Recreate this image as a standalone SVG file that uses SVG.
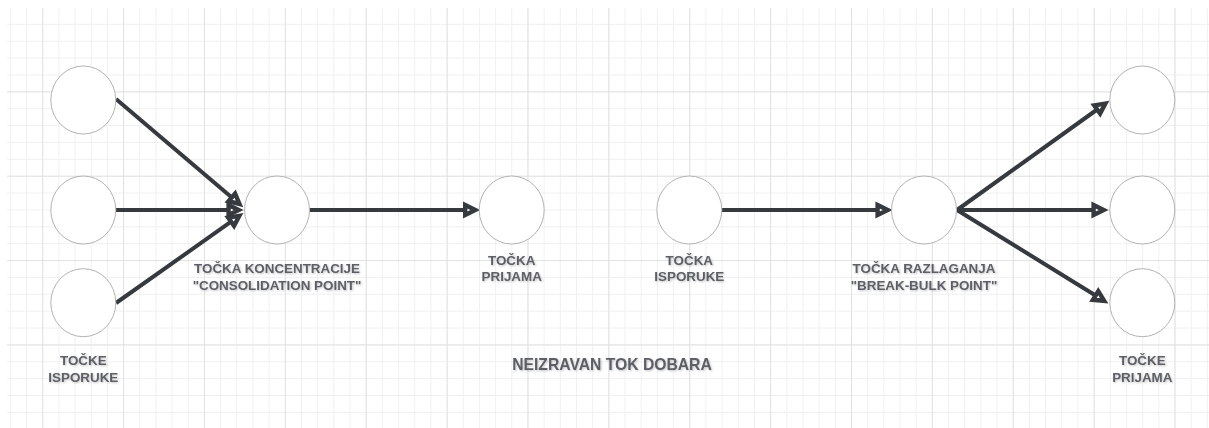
<svg xmlns="http://www.w3.org/2000/svg" width="1209" height="428" viewBox="0 0 1209 428">
  <style>
    .node { fill: #ffffff; stroke: #b3b3b3; stroke-width: 1; }
    .edge { fill: none; stroke: #36393d; stroke-width: 4; stroke-linecap: butt; marker-end: url(#arrow); }
    .lbl { font-family: "Liberation Sans", Arial, sans-serif; font-weight: bold; font-size: 13.4px; fill: #5c5f66; text-anchor: middle; filter: url(#tshadow); }
    .title { font-size: 15.7px; }
  </style>
  <defs>
    <pattern id="gmin" patternUnits="userSpaceOnUse" x="42.2" y="7" width="16.176" height="16.87">
      <path d="M0 0.5H16.176M0.5 0V16.87" stroke="#f0f0f0" stroke-width="1" fill="none"/>
    </pattern>
    <pattern id="gmaj" patternUnits="userSpaceOnUse" x="42.2" y="7" width="80.88" height="84.35">
      <path d="M0 0.5H80.88M0.5 0V84.35" stroke="#e2e2e2" stroke-width="1" fill="none"/>
    </pattern>
    <marker id="arrow" markerUnits="userSpaceOnUse" markerWidth="22" markerHeight="22" viewBox="-3 -9 20 18" refX="0" refY="0" orient="auto">
      <path d="M0,-4.6 L9.2,0 L0,4.6 Z" fill="#ffffff" stroke="#36393d" stroke-width="4" stroke-linejoin="miter"/>
    </marker>
    <filter id="tshadow" x="-10%" y="-30%" width="120%" height="160%">
      <feDropShadow dx="1" dy="1" stdDeviation="0.8" flood-color="#9a9a9a" flood-opacity="0.6"/>
    </filter>
  </defs>
  <rect x="0" y="0" width="1209" height="428" fill="#ffffff"/>
  <rect x="7" y="8" width="1202" height="420" fill="url(#gmin)"/>
  <rect x="7" y="8" width="1202" height="420" fill="url(#gmaj)"/>

  <g id="connectors">
    <path class="edge" d="M116,99 L231.8,197.4"/>
    <path class="edge" d="M116,210 L228.6,210"/>
    <path class="edge" d="M116,303 L231.1,221.7"/>
    <path class="edge" d="M309.5,210 L465.2,210"/>
    <path class="edge" d="M722,210 L877.6,210"/>
    <path class="edge" d="M957,210 L1097.15,109.5"/>
    <path class="edge" d="M957,210 L1093.6,210"/>
    <path class="edge" d="M957,210 L1095.6,295.5"/>
  </g>

  <g id="src1"><ellipse class="node" cx="83.3" cy="100" rx="32.5" ry="34"/></g>
  <g id="src2"><ellipse class="node" cx="83.3" cy="210" rx="32.5" ry="34"/></g>
  <g id="src3"><ellipse class="node" cx="83.3" cy="302.7" rx="32.5" ry="34"/></g>
  <g id="consolidation"><ellipse class="node" cx="277" cy="210" rx="32.5" ry="34"/></g>
  <g id="prijama"><ellipse class="node" cx="511.7" cy="210" rx="32.5" ry="34"/></g>
  <g id="isporuke"><ellipse class="node" cx="689.3" cy="210" rx="32.5" ry="34"/></g>
  <g id="breakbulk"><ellipse class="node" cx="924" cy="210" rx="32.5" ry="34"/></g>
  <g id="dst1"><ellipse class="node" cx="1142.3" cy="100" rx="32.5" ry="34"/></g>
  <g id="dst2"><ellipse class="node" cx="1142.3" cy="210" rx="32.5" ry="34"/></g>
  <g id="dst3"><ellipse class="node" cx="1142.3" cy="302.7" rx="32.5" ry="34"/></g>

  <g id="labels">
    <text class="lbl" x="83.3" y="365">TOČKE</text>
    <text class="lbl" x="83.3" y="382">ISPORUKE</text>
    <text class="lbl" x="277" y="272.5">TOČKA KONCENTRACIJE</text>
    <text class="lbl" x="277" y="289.5">"CONSOLIDATION POINT"</text>
    <text class="lbl" x="511.7" y="264.5">TOČKA</text>
    <text class="lbl" x="511.7" y="281">PRIJAMA</text>
    <text class="lbl" x="689.3" y="264.5">TOČKA</text>
    <text class="lbl" x="689.3" y="281">ISPORUKE</text>
    <text class="lbl" x="924" y="272.5">TOČKA RAZLAGANJA</text>
    <text class="lbl" x="924" y="289.5">"BREAK-BULK POINT"</text>
    <text class="lbl" x="1142.3" y="365">TOČKE</text>
    <text class="lbl" x="1142.3" y="382">PRIJAMA</text>
    <text class="lbl title" x="612" y="370">NEIZRAVAN TOK DOBARA</text>
  </g>
</svg>
